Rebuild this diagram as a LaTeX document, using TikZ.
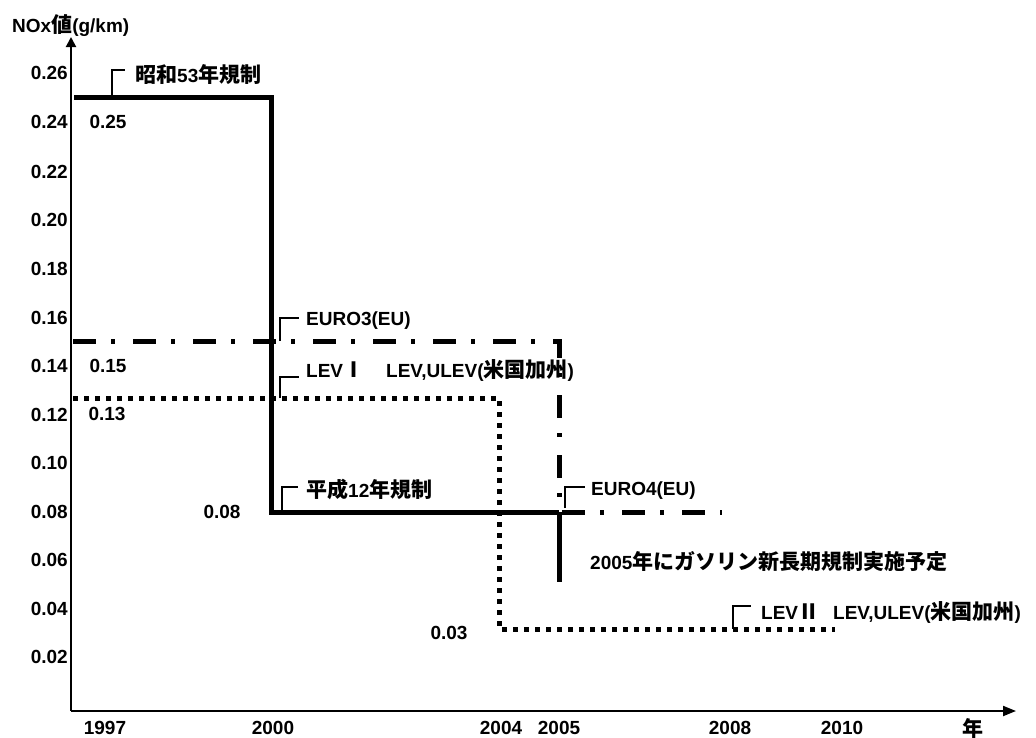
\documentclass[tikz,border=0pt]{standalone}
\usepackage{fontspec}
\setmainfont{Liberation Sans}
\newfontfamily\jpf{Noto Sans CJK JP}
\usetikzlibrary{arrows.meta}
\newcommand{\jp}[1]{{\jpf\bfseries\fontsize{21}{21}\selectfont #1}}
\begin{document}
\begin{tikzpicture}[x=1pt,y=-1pt,
  every node/.style={font=\fontsize{19}{19}\selectfont\bfseries, inner sep=0pt, text=black},
  lab/.style={anchor=base west},
  val/.style={anchor=center},
  tickl/.style={anchor=east},
  axisline/.style={line width=2pt},
  regsolid/.style={line width=5pt},
  regdashdot/.style={line width=5pt, dash pattern=on 23pt off 15pt on 4pt off 18pt},
  regdotted/.style={line width=5pt, dash pattern=on 5pt off 6pt},
  bracketline/.style={line width=1.5pt}]
\useasboundingbox (0,0) rectangle (1036,737);
\fill[white] (0,0) rectangle (1036,737);

% axes
\coordinate (O) at (71,711);
\coordinate (ytop) at (71,37);
\coordinate (xend) at (1016,711);
\draw[axisline,-{Triangle[length=10pt,width=10pt]}] (O) -- (ytop);
\draw[axisline,-{Triangle[length=13pt,width=10pt]}] (O) -- (xend);

\node[anchor=base west] (ylab) at (12,32) {NOx\jp{値}(g/km)};

% y tick labels
\foreach \v/\yy in {0.26/73,0.24/122,0.22/172,0.20/220,0.18/269,0.16/318,0.14/366,0.12/415,0.10/463,0.08/512,0.06/560,0.04/609,0.02/657}
  \node[tickl] (tk\yy) at (68,\yy) {\v};

% x labels
\node[val] (x1997) at (105,728) {1997};
\node[val] (x2000) at (273,728) {2000};
\node[val] (x2004) at (501,728) {2004};
\node[val] (x2005) at (559,728) {2005};
\node[val] (x2008) at (730,728) {2008};
\node[val] (x2010) at (842,728) {2010};
\node[val] (xnen) at (973,728) {\jp{年}};

% solid regulation (Japan)
\coordinate (s1) at (74,97);
\coordinate (s2) at (271,97);
\coordinate (s3) at (271,512);
\coordinate (s4) at (559,512);
\coordinate (s5) at (559,582);
\draw[regsolid] (s1) -- (s2) -- (s3) -- (s4);
\draw[regsolid] (s4) -- (s5);

% dash-dot (EU)
\coordinate (e1) at (73,341);
\coordinate (e2) at (559,341);
\coordinate (e3) at (559,512);
\coordinate (e4) at (722,512);
\draw[regdashdot] (e1) -- (e2) -- (e3) -- (e4);

% dotted (LEV)
\coordinate (l1) at (73,398);
\coordinate (l2) at (499,398);
\coordinate (l3) at (499,629);
\coordinate (l4) at (835,629);
\draw[regdotted] (l1) -- (l2) -- (l3) -- (l4);

% brackets and labels
\coordinate (b1a) at (112,97);  \coordinate (b1b) at (112,70);  \coordinate (b1c) at (125,70);
\draw[bracketline] (b1a) -- (b1b) -- (b1c);
\node[lab] (t1) at (135,82) {\jp{昭和}53\jp{年規制}};

\coordinate (b2a) at (280,341); \coordinate (b2b) at (280,318); \coordinate (b2c) at (299,318);
\draw[bracketline] (b2a) -- (b2b) -- (b2c);
\node[lab] (t2) at (306,325) {EURO3(EU)};

\coordinate (b3a) at (280,398); \coordinate (b3b) at (280,377); \coordinate (b3c) at (299,377);
\draw[bracketline] (b3a) -- (b3b) -- (b3c);
\node[lab] (t3) at (306,377) {LEV\jp{Ⅰ}\hspace{22pt}LEV,ULEV(\jp{米国加州})};

\coordinate (b4a) at (282,511); \coordinate (b4b) at (282,487); \coordinate (b4c) at (298,487);
\draw[bracketline] (b4a) -- (b4b) -- (b4c);
\node[lab] (t4) at (306,497) {\jp{平成}12\jp{年規制}};

\coordinate (b5a) at (565,508); \coordinate (b5b) at (565,487); \coordinate (b5c) at (585,487);
\draw[bracketline] (b5a) -- (b5b) -- (b5c);
\node[lab] (t5) at (591,495) {EURO4(EU)};

\node[lab] (t6) at (590,569) {2005\jp{年にガソリン新長期規制実施予定}};

\coordinate (b6a) at (733,629); \coordinate (b6b) at (733,606); \coordinate (b6c) at (751,606);
\draw[bracketline] (b6a) -- (b6b) -- (b6c);
\node[lab] (t7) at (761,619) {LEV\jp{Ⅱ}\hspace{14pt}LEV,ULEV(\jp{米国加州})};

% values
\node[val] (v25) at (108,122) {0.25};
\node[val] (v15) at (108,366) {0.15};
\node[val] (v13) at (107,414) {0.13};
\node[val] (v08) at (222,512) {0.08};
\node[val] (v03) at (449,633) {0.03};
\end{tikzpicture}
\end{document}
